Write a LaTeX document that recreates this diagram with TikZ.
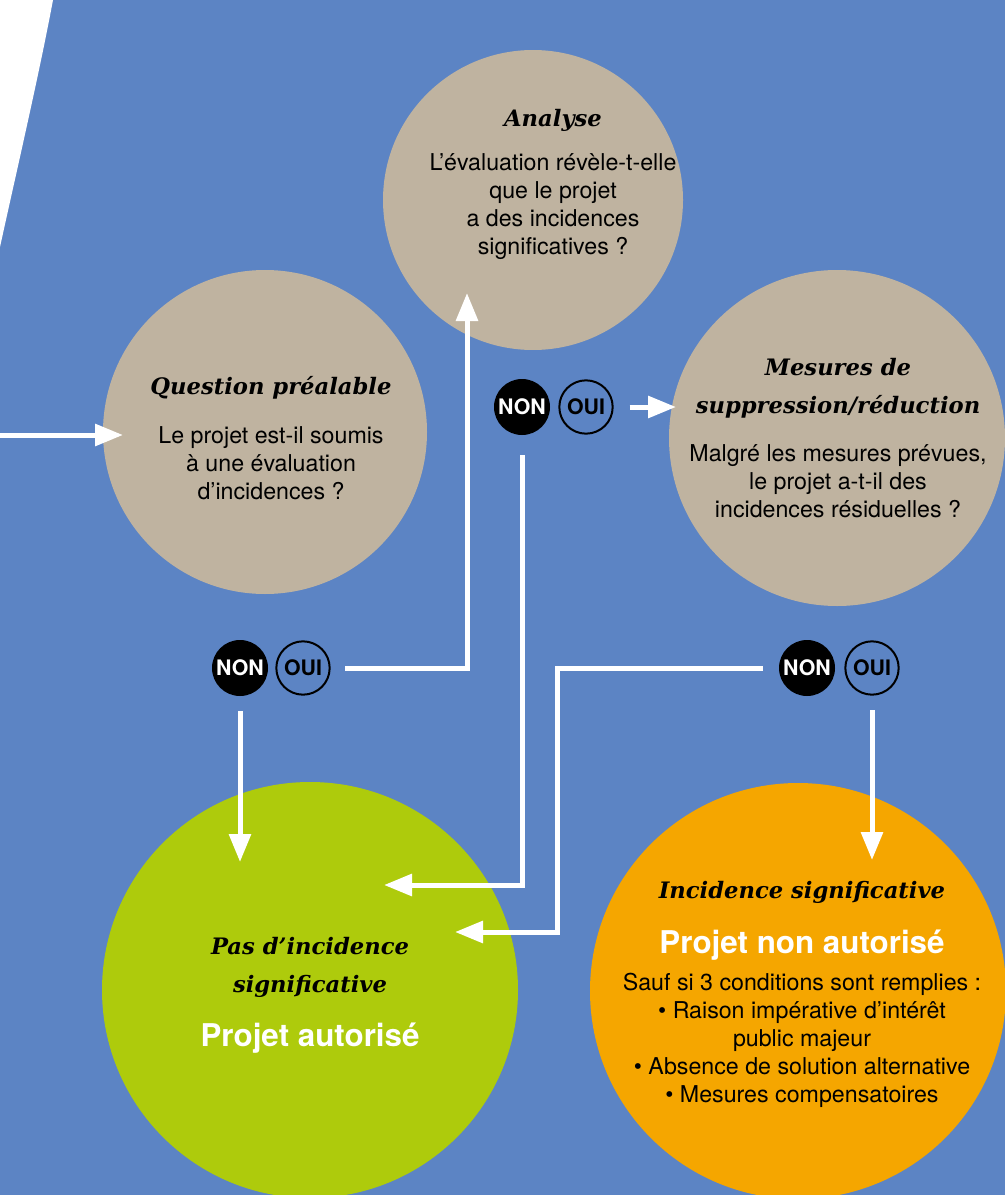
\documentclass[tikz,border=0pt]{standalone}
\usepackage{fontspec}
\newfontfamily\heros{TeX Gyre Heros}
\newfontfamily\titrefont{DejaVu Serif}
\usetikzlibrary{arrows.meta}
\definecolor{fond}{RGB}{92,132,196}
\definecolor{sable}{RGB}{191,179,160}
\definecolor{vert}{RGB}{174,203,12}
\definecolor{orangeb}{RGB}{245,166,0}
\tikzset{
  disc/.style={circle, inner sep=0pt, minimum size=#1},
  titre/.style={align=center, font=\titrefont\fontsize{17}{28.5}\selectfont\bfseries\itshape},
  texte/.style={align=center, font=\heros\fontsize{17.4}{21}\selectfont},
  verdict/.style={align=center, text=white, font=\heros\bfseries\fontsize{23.5}{28}\selectfont},
  non/.style={disc=42pt, fill=black, text=white, font=\heros\bfseries\fontsize{16}{16}\selectfont},
  oui/.style={disc=40pt, draw=black, line width=1.5pt, font=\heros\bfseries\fontsize{16}{16}\selectfont},
  flow/.style={white, line width=3.75pt, -{Triangle[length=21pt,width=16pt]}}
}

\begin{document}
\begin{tikzpicture}[x=0.75pt, y=-0.75pt]
    \useasboundingbox (0,0) rectangle (1005,1195);
    \clip (0,0) rectangle (1005,1195);
    \fill [fond] (0,0) rectangle (1005,1195);
    \fill [white] (0,0) -- (53,0) .. controls (40,70) and (18,165) .. (0,247) -- cycle;
    % circles
    \node [disc=243pt, fill=sable] (quest) at (265,432) {};
    \node [disc=225pt, fill=sable] (anal) at (533,200) {};
    \node [disc=252pt, fill=sable] (mes) at (837,438) {};
    \node [disc=312pt, fill=vert] (pas) at (310,990) {};
    \node [disc=312pt, fill=orangeb] (inc) at (798,991) {};
    % badges
    \node [non] (qnon) at (240,668) {NON};
    \node [oui] (qoui) at (303,668) {OUI};
    \node [non] (anon) at (522,407) {NON};
    \node [oui] (aoui) at (586,407) {OUI};
    \node [non] (mnon) at (807,668) {NON};
    \node [oui] (moui) at (872,668) {OUI};
    % arrow ends
    \coordinate (entree) at (0,435);
    \coordinate (qtip) at (123,435);
    \coordinate (atip) at (467,293);
    \coordinate (mtip) at (676,407);
    \coordinate (ptip1) at (240,862);
    \coordinate (ptip2) at (384,885);
    \coordinate (mbend) at (557,932);
    \coordinate (ptip3) at (455,932);
    \coordinate (itip) at (872,860);
    % edges
    \draw [flow] (entree) -- (qtip);
    \draw [flow] ([xshift=11pt]qoui.east) -| (atip);
    \draw [flow] ([yshift=-11pt]qnon.south) -- (ptip1);
    \draw [flow] ([xshift=12pt]aoui.east) -- (mtip);
    \draw [flow] ([yshift=-15pt]anon.south) |- (ptip2);
    \draw [flow] ([xshift=-12pt]mnon.west) -| (mbend) -- (ptip3);
    \draw [flow] ([yshift=-11pt]moui.south) -- (itip);
    % texts
    \node [titre] (t1) at (271,388) {Question préalable};
    \node [texte] (b1) at (271,463) {Le projet est-il soumis\\à une évaluation\\d’incidences ?};
    \node [titre] (t2) at (553,120) {Analyse};
    \node [texte] (b2) at (553,207) {L’évaluation révèle-t-elle\\que le projet\\a des incidences\\significatives ?};
    \node [titre] (t3) at (838,388) {Mesures de\\suppression/réduction};
    \node [texte] (b3) at (838,481) {Malgré les mesures prévues,\\le projet a-t-il des\\incidences résiduelles ?};
    \node [titre] (t4) at (310,967) {Pas d’incidence\\significative};
    \node [verdict] (v4) at (310,1038) {Projet autorisé};
    \node [titre] (t5) at (802,892) {Incidence significative};
    \node [verdict] (v5) at (802,945) {Projet non autorisé};
    \node [texte] (b5) at (802,1040) {Sauf si 3 conditions sont remplies :\\\textbullet{} Raison impérative d’intérêt\\public majeur\\\textbullet{} Absence de solution alternative\\\textbullet{} Mesures compensatoires};
\end{tikzpicture}
\end{document}
